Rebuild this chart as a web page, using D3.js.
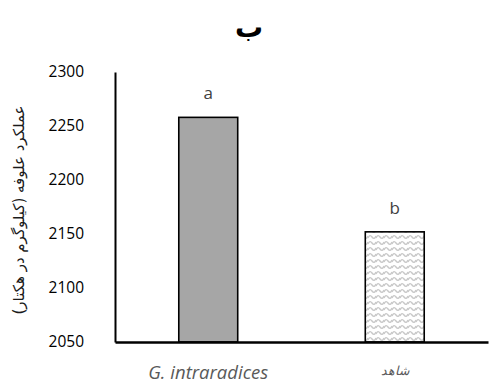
<!DOCTYPE html>
<html>
<head>
<meta charset="utf-8">
<script src="https://cdn.jsdelivr.net/npm/d3@7"></script>
<style>
  body { margin: 0; background: #fff; }
  svg { display: block; }
</style>
</head>
<body>
<svg width="489" height="387"></svg>
<script>
// data
var categories = ["G. intraradices", "شاهد"];
var values = [2258, 2152];
var letters = ["a", "b"];
var yTicks = [2050, 2100, 2150, 2200, 2250, 2300];

var svg = d3.select("svg");
var x0 = 115, x1 = 488, yTop = 72, yBot = 342;

var x = d3.scaleBand()
    .domain(categories)
    .range([x0, x1])
    .paddingInner(0.684)
    .paddingOuter(0.342);

var y = d3.scaleLinear()
    .domain([2050, 2300])
    .range([yBot, yTop]);

// wavy pattern for the second bar
var defs = svg.append("defs");
var pat = defs.append("pattern")
    .attr("id", "waves")
    .attr("patternUnits", "userSpaceOnUse")
    .attr("width", 8)
    .attr("height", 6);
pat.append("rect").attr("width", 8).attr("height", 6).attr("fill", "#fff");
pat.append("path")
    .attr("d", "M0,4 C1.5,1 2.5,1 4,3 C5.5,5 6.5,5 8,2")
    .attr("fill", "none")
    .attr("stroke", "#c8c8c8")
    .attr("stroke-width", 1.4);

var fills = ["#a6a6a6", "url(#waves)"];

// title
svg.append("text")
    .attr("x", 249).attr("y", 37)
    .attr("text-anchor", "middle")
    .attr("font-family", "DejaVu Sans, sans-serif")
    .attr("font-weight", "bold")
    .attr("font-size", 28)
    .text("ب");

// bars
svg.selectAll("rect.bar")
    .data(values)
    .enter()
    .append("rect")
    .attr("class", "bar")
    .attr("x", (d, i) => x(categories[i]))
    .attr("y", d => y(d))
    .attr("width", x.bandwidth())
    .attr("height", d => y(2050) - y(d))
    .attr("fill", (d, i) => fills[i])
    .attr("stroke", "#000")
    .attr("stroke-width", 1.6);

// letters above bars
svg.selectAll("text.letter")
    .data(values)
    .enter()
    .append("text")
    .attr("class", "letter")
    .attr("x", (d, i) => x(categories[i]) + x.bandwidth() / 2)
    .attr("y", d => y(d) - 18)
    .attr("text-anchor", "middle")
    .attr("font-family", "Open Sans, sans-serif")
    .attr("font-size", 17)
    .attr("fill", "#404040")
    .text((d, i) => letters[i]);

// y axis
var yAxis = svg.append("g")
    .attr("transform", "translate(" + x0 + ",0)")
    .call(d3.axisLeft(y).tickValues(yTicks).tickFormat(d3.format("d")).tickSize(0).tickPadding(31));
yAxis.select(".domain").attr("stroke", "#000").attr("stroke-width", 2);
yAxis.selectAll("text")
    .attr("font-family", "Open Sans, sans-serif")
    .attr("font-size", 15.5)
    .attr("fill", "#000");

// x axis
var xAxis = svg.append("g")
    .attr("transform", "translate(0," + yBot + ")")
    .call(d3.axisBottom(x).tickSize(0).tickPadding(24));
xAxis.select(".domain").attr("stroke", "#000").attr("stroke-width", 2.5);
xAxis.selectAll("text")
    .attr("font-family", "Open Sans, DejaVu Sans, sans-serif")
    .attr("font-size", (d, i) => i === 0 ? 18.5 : 12.5)
    .attr("font-style", "italic")
    .attr("fill", "#595959");

// y axis title
svg.append("text")
    .attr("transform", "translate(24,210) rotate(-90)")
    .attr("text-anchor", "middle")
    .attr("font-family", "DejaVu Sans, sans-serif")
    .attr("font-size", 15)
    .attr("fill", "#1a1a1a")
    .text("عملکرد علوفه (کیلوگرم در هکتار)");
</script>
</body>
</html>
